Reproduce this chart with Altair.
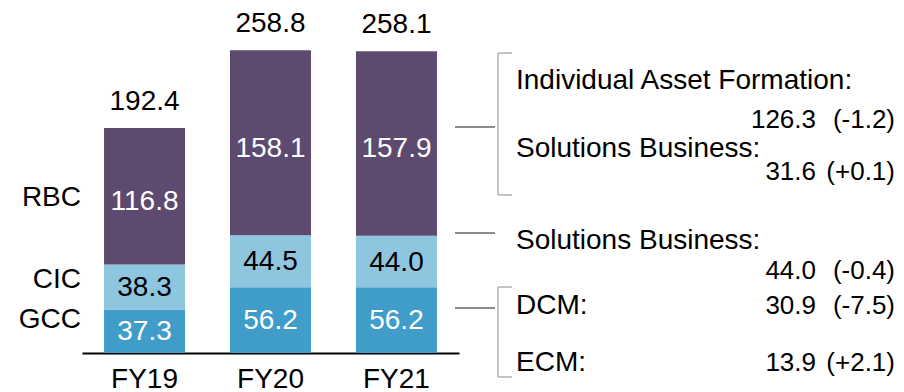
import altair as alt
import pandas as pd

# ---- data ----
years = ["FY19", "FY20", "FY21"]
segments = ["GCC", "CIC", "RBC"]
gcc = [37.3, 56.2, 56.2]
cic = [38.3, 44.5, 44.0]
rbc = [116.8, 158.1, 157.9]
totals = [192.4, 258.8, 258.1]

ann_names = ["Individual Asset Formation:", "Solutions Business:",
             "Solutions Business:", "DCM:", "ECM:"]
ann_values = ["126.3", "31.6", "44.0", "30.9", "13.9"]
ann_changes = ["(-1.2)", "(+0.1)", "(-0.4)", "(-7.5)", "(+2.1)"]

# ---- styling / layout ----
FONT = "Liberation Sans"
FS = 28
FS_NUM = 26
COLORS = {"GCC": "#409cc9", "CIC": "#8ec6e0", "RBC": "#5d4a6e"}
W, H = 377, 345
TOTAL_W, TOTAL_H = 888, 384
PX0, PY0 = 82, 8          # page position of plot origin
def px(x):
    return x - PX0
def py(y):
    return y - PY0

rows = []
for i, yr in enumerate(years):
    base = 0.0
    for seg, vals in zip(segments, [gcc, cic, rbc]):
        v = vals[i]
        rows.append({"year": yr, "segment": seg, "value": v,
                     "y0": base, "y1": base + v, "mid": base + v / 2})
        base += v
df = pd.DataFrame(rows)
tot = pd.DataFrame({"year": years, "total": totals})

xs = alt.X("year:N", sort=years, title=None,
           scale=alt.Scale(paddingInner=0.357, paddingOuter=0.175),
           axis=alt.Axis(labelAngle=0, labelFont=FONT, labelFontSize=FS,
                         labelColor="black", labelPadding=12, ticks=False,
                         domainColor="black", domainWidth=2, grid=False))
yscale = alt.Scale(domain=[0, 295], nice=False, zero=True)

bars = alt.Chart(df).mark_bar(size=81).encode(
    x=xs,
    y=alt.Y("y1:Q", scale=yscale, axis=None),
    y2="y0:Q",
    color=alt.Color("segment:N", legend=None,
                    scale=alt.Scale(domain=list(COLORS), range=list(COLORS.values()))),
)

def seg_text(seg, color, dy):
    return alt.Chart(df).transform_filter(alt.datum.segment == seg).mark_text(
        font=FONT, fontSize=FS, color=color, baseline="middle", dy=dy
    ).encode(x=alt.X("year:N", sort=years), y=alt.Y("mid:Q", scale=yscale),
             text=alt.Text("value:Q", format=".1f"))

lbl_gcc = seg_text("GCC", "white", 1)
lbl_cic = seg_text("CIC", "black", 1)
lbl_rbc = seg_text("RBC", "white", 6)

tot_text = alt.Chart(tot).mark_text(
    font=FONT, fontSize=FS, color="black", baseline="alphabetic", dy=-18
).encode(x=alt.X("year:N", sort=years), y=alt.Y("total:Q", scale=yscale),
         text=alt.Text("total:Q", format=".1f"))

one = alt.Chart(pd.DataFrame({"a": [0]}))

def txt(t, x, y, align="left", size=FS):
    return one.mark_text(text=t, font=FONT, fontSize=size, color="black",
                         align=align, baseline="middle").encode(
        x=alt.value(px(x)), y=alt.value(py(y)))

def hrule(x1, x2, y, color, w):
    return one.mark_rule(color=color, strokeWidth=w).encode(
        x=alt.value(px(x1)), x2=alt.value(px(x2)), y=alt.value(py(y)))

def vrule(x, y1, y2, color, w):
    return one.mark_rule(color=color, strokeWidth=w).encode(
        x=alt.value(px(x)), y=alt.value(py(y1)), y2=alt.value(py(y2)))

layers = [bars, lbl_gcc, lbl_cic, lbl_rbc, tot_text]

# left segment names
for name, yc in zip(["RBC", "CIC", "GCC"], [197.5, 280, 320]):
    layers.append(txt(name, 81, yc, align="right"))

# right annotations
name_y = [81, 149, 241, 306, 362.5]
val_y = [120, 172, 271, 306, 362.5]
for n, v, c, ny, vy in zip(ann_names, ann_values, ann_changes, name_y, val_y):
    layers.append(txt(n, 516, ny))
    layers.append(txt(v, 816, vy, align="right", size=FS_NUM))
    layers.append(txt(c, 895, vy, align="right", size=FS_NUM))

# connectors and brackets
CONN, BRK = "#8c8c8c", "#a6a6a6"
for yc in [127, 233, 308]:
    layers.append(hrule(455, 495, yc, CONN, 2))
for top, bot in [(53, 195), (287, 377)]:
    layers.append(vrule(498, top, bot, BRK, 1.3))
    layers.append(hrule(498, 512, top, BRK, 1.3))
    layers.append(hrule(498, 512, bot, BRK, 1.3))

chart = alt.layer(*layers).properties(
    width=W, height=H,
    autosize=alt.AutoSizeParams(type="none"),
    padding={"left": PX0 - 8, "right": TOTAL_W - (PX0 - 8) - W, "top": 0,
             "bottom": TOTAL_H - H},
).configure_view(stroke=None)

chart.save("out.html", embed_options={"renderer": "svg", "actions": False})
